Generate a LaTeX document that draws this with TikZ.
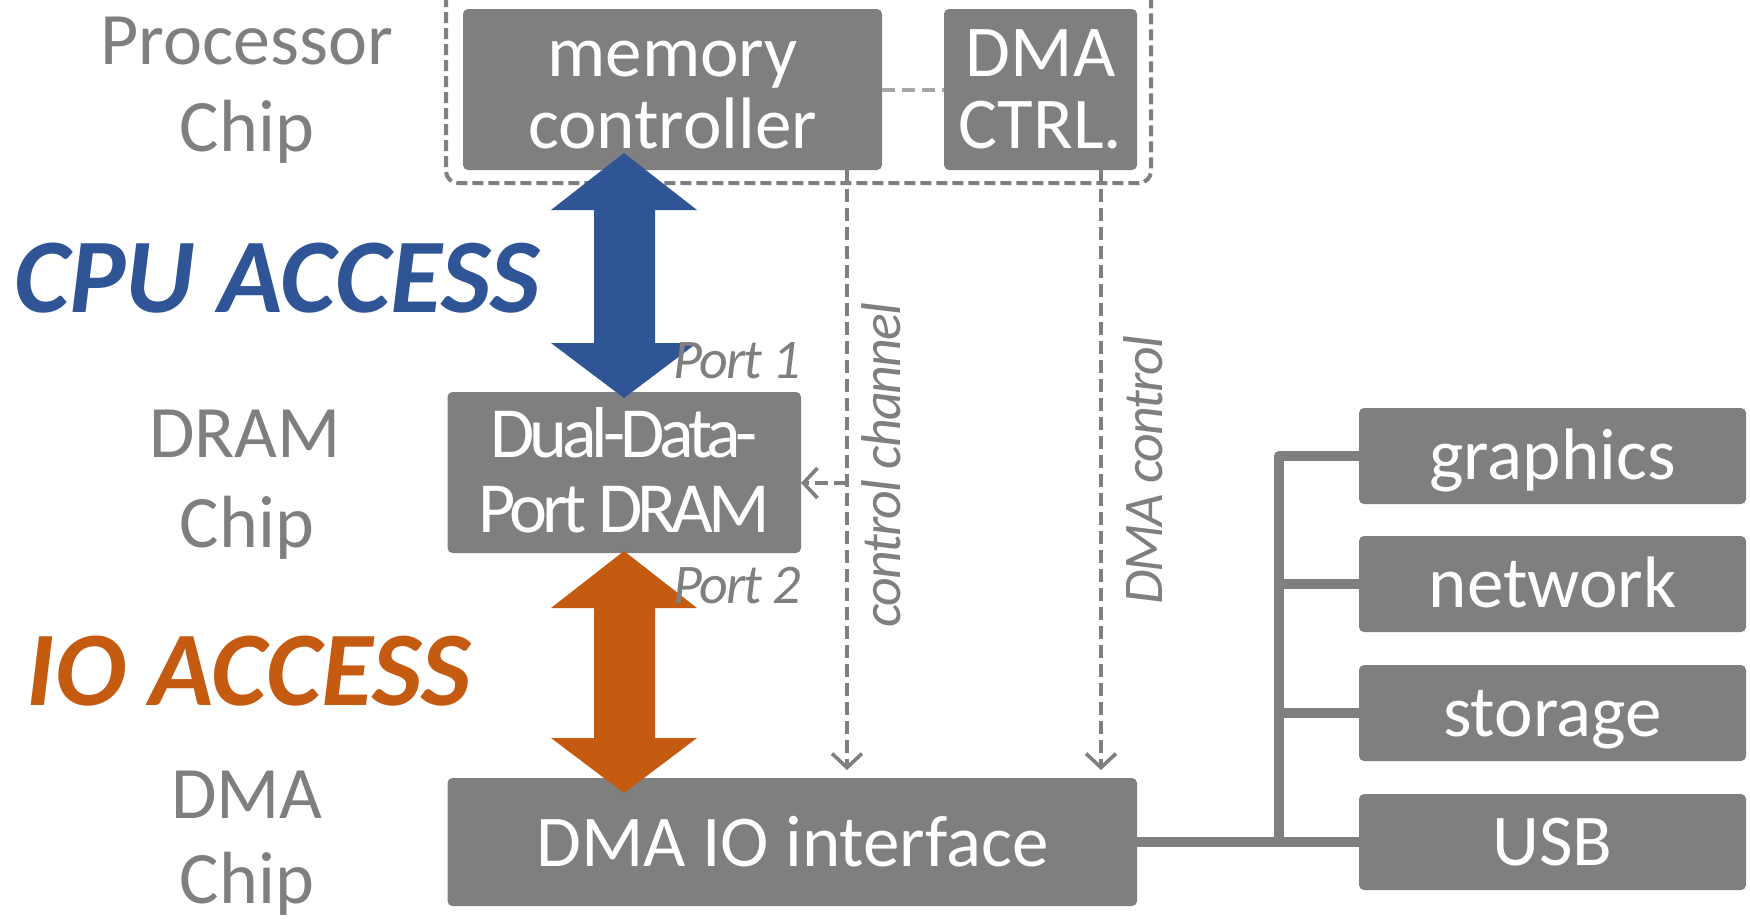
\documentclass[tikz,border=0pt]{standalone}
\usepackage{fontspec}
\setmainfont{Carlito}
\usetikzlibrary{arrows.meta}
\definecolor{boxgray}{HTML}{7F7F7F}
\definecolor{linkgray}{HTML}{A6A6A6}
\definecolor{cpublue}{HTML}{2F5597}
\definecolor{ioorange}{HTML}{C55A11}

\begin{document}
\begin{tikzpicture}[x=0.5pt,y=-0.5pt,
  unitbox/.style={fill=boxgray, draw=none, rounded corners=2.5pt, inner sep=0pt, outer sep=0pt},
  boxtext/.style={font=\fontsize{36.5pt}{40pt}\selectfont, text=white, inner sep=0pt, anchor=base},
  dramtext/.style={font=\fontsize{36pt}{40pt}\selectfont\addfontfeature{LetterSpace=-7}, text=white, inner sep=0pt, anchor=base},
  chiplabel/.style={font=\fontsize{37pt}{40pt}\selectfont, text=boxgray, inner sep=0pt, anchor=base},
  access/.style={font=\fontsize{53pt}{56pt}\selectfont\bfseries\itshape, inner sep=0pt, anchor=base},
  portlabel/.style={font=\fontsize{28pt}{30pt}\selectfont\itshape\addfontfeature{LetterSpace=-3.5}, text=boxgray, inner sep=0pt, anchor=base west},
  ctrllabel/.style={font=\fontsize{28pt}{30pt}\selectfont\itshape\addfontfeature{LetterSpace=-3.5}, text=boxgray, inner sep=0pt, anchor=base, rotate=90},
  chipframe/.style={draw=boxgray, line width=2pt, dash pattern=on 5.5pt off 2.5pt, rounded corners=6pt},
  ctrlline/.style={draw=boxgray, line width=2pt, dash pattern=on 6.5pt off 3pt,
    -{Straight Barb[length=7pt,width=15pt,line width=1.8pt]}},
  peerlink/.style={draw=linkgray, line width=2pt, dash pattern=on 6.5pt off 3.5pt},
  busline/.style={draw=boxgray, line width=5pt, line join=round, line cap=butt}
]
\useasboundingbox (0,0) rectangle (1750,918);
\clip (0,0) rectangle (1750,918);

% ---------- boxes ----------
\node[unitbox, minimum width=209.5pt, minimum height=80.5pt] (mc) at (672.5,89.5) {};
\node[unitbox, minimum width=96.5pt, minimum height=80.5pt] (dmac) at (1040.5,89.5) {};
\node[unitbox, minimum width=176.75pt, minimum height=80.5pt] (dram) at (624.25,472.5) {};
\node[unitbox, minimum width=344.75pt, minimum height=64pt] (dmaio) at (792.25,842) {};
\node[unitbox, minimum width=193.5pt, minimum height=48pt] (gfx) at (1552.5,456) {};
\node[unitbox, minimum width=193.5pt, minimum height=48pt] (net) at (1552.5,584) {};
\node[unitbox, minimum width=193.5pt, minimum height=48pt] (sto) at (1552.5,713) {};
\node[unitbox, minimum width=193.5pt, minimum height=48pt] (usb) at (1552.5,842) {};

% ---------- box texts ----------
\node[boxtext] (mcA) at (672.5,76) {memory};
\node[boxtext] (mcB) at (672.5,148) {controller};
\node[boxtext] (dmacA) at (1040.5,76) {DMA};
\node[boxtext] (dmacB) at (1040.5,148) {CTRL.};
\node[dramtext] (dramA) at (624.25,457) {Dual-Data-};
\node[dramtext] (dramB) at (624.25,532) {Port DRAM};
\node[boxtext] (dmaioT) at (792.25,866) {DMA IO interface};
\node[boxtext] (gfxT) at (1552.5,479) {graphics};
\node[boxtext] (netT) at (1552.5,607) {network};
\node[boxtext] (stoT) at (1552.5,736) {storage};
\node[boxtext] (usbT) at (1552.5,865) {USB};

% ---------- chip labels ----------
\node[chiplabel] (pcA) at (247,64) {Processor};
\node[chiplabel] (pcB) at (247,151) {Chip};
\node[chiplabel] (dcA) at (245,457) {DRAM};
\node[chiplabel] (dcB) at (247,547) {Chip};
\node[chiplabel] (xcA) at (247,818) {DMA};
\node[chiplabel] (xcB) at (247,903) {Chip};

% ---------- processor chip boundary ----------
\draw[chipframe] (446,-20) -- (446,183) -- (1151,183) -- (1151,-20);

% ---------- link between the two controllers ----------
\draw[peerlink] (mc.east) -- (dmac.west);

% ---------- control lines ----------
\coordinate (ccx) at (847,0);
\coordinate (dcx) at (1101,0);
\coordinate (ccb) at (847,483);
\draw[ctrlline, shorten >=4pt] (mc.south -| ccx) -- (dmaio.north -| ccx);
\draw[ctrlline, shorten >=4pt] (dmac.south -| dcx) -- (dmaio.north -| dcx);
\draw[ctrlline] (ccb) -- (ccb -| dram.east);
\node[ctrllabel] (ccT) at (900,465) {control channel};
\node[ctrllabel] (dcT) at (1162,470) {DMA control};

% ---------- IO bus ----------
\coordinate (busx) at (1279,0);
\draw[busline] (dmaio.east) -| (busx |- gfx.west) -- (gfx.west);
\draw[busline] (dmaio.east) -| (busx |- net.west) -- (net.west);
\draw[busline] (dmaio.east) -| (busx |- sto.west) -- (sto.west);
\draw[busline] (dmaio.east) -- (usb.west);

% ---------- access arrows ----------
\fill[cpublue] (624,153) -- (697,210) -- (655,210) -- (655,343) -- (697,343)
  -- (624,398) -- (551,343) -- (594,343) -- (594,210) -- (551,210) -- cycle;
\fill[ioorange] (624,551) -- (697,608) -- (655,608) -- (655,738) -- (697,738)
  -- (624,793) -- (551,738) -- (594,738) -- (594,608) -- (551,608) -- cycle;

\node[access, text=cpublue] (cpu) at (277,312) {CPU ACCESS};
\node[access, text=ioorange] (io) at (249,705) {IO ACCESS};
\node[portlabel] (p1) at (673,378) {Port 1};
\node[portlabel] (p2) at (673,603) {Port 2};
\end{tikzpicture}
\end{document}
